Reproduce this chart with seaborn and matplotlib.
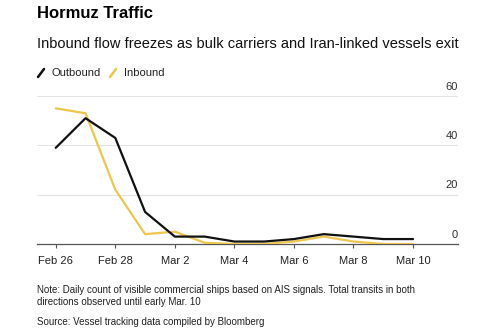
import matplotlib
matplotlib.use("Agg")
import matplotlib.pyplot as plt
from matplotlib.lines import Line2D
import pandas as pd
import seaborn as sns

dates = ["2026-02-26", "2026-02-27", "2026-02-28", "2026-03-01", "2026-03-02",
         "2026-03-03", "2026-03-04", "2026-03-05", "2026-03-06", "2026-03-07",
         "2026-03-08", "2026-03-09", "2026-03-10"]
outbound = [39, 51, 43, 13, 3, 3, 1, 1, 2, 4, 3, 2, 2]
inbound = [55, 53, 22, 4, 5, 0.5, 0, 0, 1, 3, 1, 0, 0]
tick_dates = ["2026-02-26", "2026-02-28", "2026-03-02", "2026-03-04",
              "2026-03-06", "2026-03-08", "2026-03-10"]
tick_labels = ["Feb 26", "Feb 28", "Mar 2", "Mar 4", "Mar 6", "Mar 8", "Mar 10"]
y_ticks = [0, 20, 40, 60]

BLACK = "#111111"
GOLD = "#EEC64E"

sns.set_theme(style="white")
plt.rcParams["font.family"] = ["Liberation Sans", "DejaVu Sans"]

df = pd.DataFrame({
    "date": pd.to_datetime(dates * 2),
    "value": outbound + inbound,
    "series": ["Outbound"] * len(dates) + ["Inbound"] * len(dates),
})

W, H = 481, 329
fig = plt.figure(figsize=(W / 100, H / 100), dpi=100)
ax = fig.add_axes([37 / W, 1 - 244 / H, (458 - 37) / W, (244 - 96) / H])

sns.lineplot(data=df, x="date", y="value", hue="series",
             hue_order=["Inbound", "Outbound"],
             palette={"Outbound": BLACK, "Inbound": GOLD},
             linewidth=1.6, legend=False, ax=ax)

ax.set_ylim(0, 60)
ax.set_xlim(pd.Timestamp("2026-02-26") - pd.Timedelta(days=0.63),
            pd.Timestamp("2026-03-10") + pd.Timedelta(days=1.51))
for yv in y_ticks[1:]:
    ax.axhline(yv, color="#e3e3e3", lw=0.8, zorder=0)
ax.set_yticks([])
for yv in y_ticks:
    ax.annotate(str(yv), xy=(1, yv), xycoords=("axes fraction", "data"),
                xytext=(0, 3), textcoords="offset points",
                ha="right", va="bottom", fontsize=8, color="#333333")

ax.set_xticks(pd.to_datetime(tick_dates))
ax.set_xticklabels(tick_labels, fontsize=8, color="#222222")
ax.tick_params(axis="x", length=3, width=0.8, color="#555555", pad=6, bottom=True)
ax.set_xlabel("")
ax.set_ylabel("")
for s in ["top", "right", "left"]:
    ax.spines[s].set_visible(False)
ax.spines["bottom"].set_color("#555555")
ax.spines["bottom"].set_linewidth(0.9)
ax.spines["bottom"].set_zorder(0.5)

def fx(px):
    return px / W

def fy(py):
    return 1 - py / H

fig.text(fx(37), fy(14), "Hormuz Traffic", fontsize=12, fontweight="bold",
         va="center", ha="left", color="#000000")
fig.text(fx(37), fy(44), "Inbound flow freezes as bulk carriers and Iran-linked vessels exit",
         fontsize=10.5, va="center", ha="left", color="#111111")

# legend
fig.add_artist(Line2D([fx(38), fx(44)], [fy(77), fy(69)], color=BLACK, lw=1.8))
fig.text(fx(51), fy(73), "Outbound", fontsize=8, va="center", ha="left", color="#222222")
fig.add_artist(Line2D([fx(110), fx(116)], [fy(77), fy(69)], color=GOLD, lw=1.8))
fig.text(fx(124), fy(73), "Inbound", fontsize=8, va="center", ha="left", color="#222222")

fig.text(fx(37), fy(290), "Note: Daily count of visible commercial ships based on AIS signals. Total transits in both",
         fontsize=7, va="center", ha="left", color="#222222")
fig.text(fx(37), fy(302), "directions observed until early Mar. 10",
         fontsize=7, va="center", ha="left", color="#222222")
fig.text(fx(37), fy(322), "Source: Vessel tracking data compiled by Bloomberg",
         fontsize=7, va="center", ha="left", color="#222222")

fig.savefig("out.png", dpi=100, facecolor="white")
